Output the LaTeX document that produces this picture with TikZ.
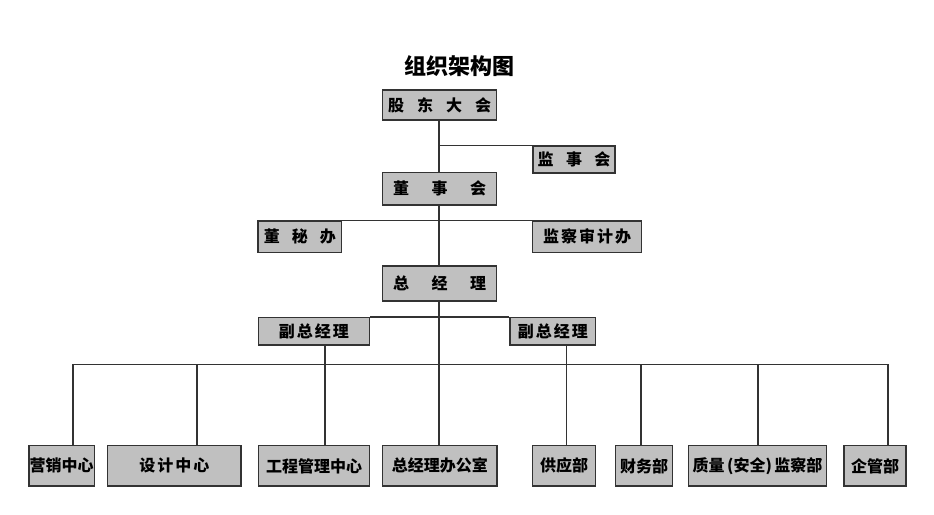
\documentclass[tikz,border=0pt]{standalone}
\usepackage{fontspec}
\usetikzlibrary{backgrounds}
\setmainfont{Noto Sans CJK SC}
\newcommand\gp[1]{\hspace{#1pt}}
\definecolor{boxgray}{HTML}{C0C0C0}
\tikzset{
  box/.style={draw=black!80, line width=1.4pt, fill=boxgray, inner sep=0pt, font=\fontsize{16}{16}\selectfont\bfseries, text=black},
  link/.style={draw=black!80, line width=1.6pt},
}
\begin{document}
\begin{tikzpicture}[x=1pt,y=-1pt]
\useasboundingbox (0,0) rectangle (934,514);
\node[font=\fontsize{22}{22}\selectfont\bfseries] (title) at (459,66) {组织架构图};
% bus coordinates
\coordinate (b1) at (72.7,364.3);
\coordinate (b2) at (196.7,364.3);
\coordinate (b3) at (325,364.3);
\coordinate (b4) at (439,364.3);
\coordinate (b5) at (566.5,364.3);
\coordinate (b6) at (641,364.3);
\coordinate (b7) at (757.7,364.3);
\coordinate (b8) at (888,364.3);
% nodes
\path
  node[box, minimum width=114pt, minimum height=30pt] (gd) at (439.7,105) {股\gp{13}东\gp{13}大\gp{13}会}
  node[box, minimum width=82pt, minimum height=27pt] (jsh) at (574,159.5) {监\gp{12.5}事\gp{12.5}会}
  node[box, minimum width=114pt, minimum height=32.3pt] (dsh) at (439.7,188.85) {董\gp{22.5}事\gp{22.5}会}
  node[box, minimum width=83.7pt, minimum height=31.7pt] (dmb) at (299.85,236.85) {董\gp{12}秘\gp{12}办}
  node[box, minimum width=109pt, minimum height=31.7pt] (jcsjb) at (587.2,236.85) {监\gp{2}察\gp{2}审\gp{2}计\gp{2}办}
  node[box, minimum width=114pt, minimum height=35pt] (zjl) at (439.7,283.5) {总\gp{22.5}经\gp{22.5}理}
  node[box, minimum width=111pt, minimum height=27.3pt] (fz1) at (313.8,331.35) {副\gp{2}总\gp{2}经\gp{2}理}
  node[box, minimum width=85.7pt, minimum height=27.3pt] (fz2) at (552.85,331.35) {副\gp{2}总\gp{2}经\gp{2}理}
  node[box, minimum width=65.3pt, minimum height=40.3pt] (yx) at (61.65,465.85) {营销中心}
  node[box, minimum width=133.3pt, minimum height=40.3pt] (sj) at (174.35,465.85) {设\gp{2}计\gp{2}中\gp{2}心}
  node[box, minimum width=110.6pt, minimum height=40.3pt] (gc) at (314,465.85) {工程管理中心}
  node[box, minimum width=114.3pt, minimum height=40.3pt] (zb) at (439.85,465.85) {总经理办公室}
  node[box, minimum width=63.4pt, minimum height=40.3pt] (gy) at (564,465.85) {供应部}
  node[box, minimum width=57pt, minimum height=40.3pt] (cw) at (644.2,465.85) {财务部}
  node[box, minimum width=138.4pt, minimum height=40.3pt] (zl) at (757.5,465.85) {质量\gp{2.5}(安全)\gp{2.5}监察部}
  node[box, minimum width=62pt, minimum height=40.3pt] (qg) at (875,465.85) {企管部};
% connectors
\begin{scope}[on background layer]
\draw[link] (b4 |- gd.south) -- (b4 |- zb.north);
\draw[link] (b4 |- jsh.north) -- (jsh.north west);
\draw[link] (dmb.north west) -- (jcsjb.north east);
\draw[link] (fz1.north east) -- (fz2.north west);
\draw[link] (b1) -- (b8);
\draw[link] (b1) -- (b1 |- yx.north);
\draw[link] (b2) -- (b2 |- sj.north);
\draw[link] (b3 |- fz1.south) -- (b3 |- gc.north);
\draw[link] (b5 |- fz2.south) -- (b5 |- gy.north);
\draw[link] (b6) -- (b6 |- cw.north);
\draw[link] (b7) -- (b7 |- zl.north);
\draw[link] (b8) -- (b8 |- qg.north);
\end{scope}
\end{tikzpicture}
\end{document}
